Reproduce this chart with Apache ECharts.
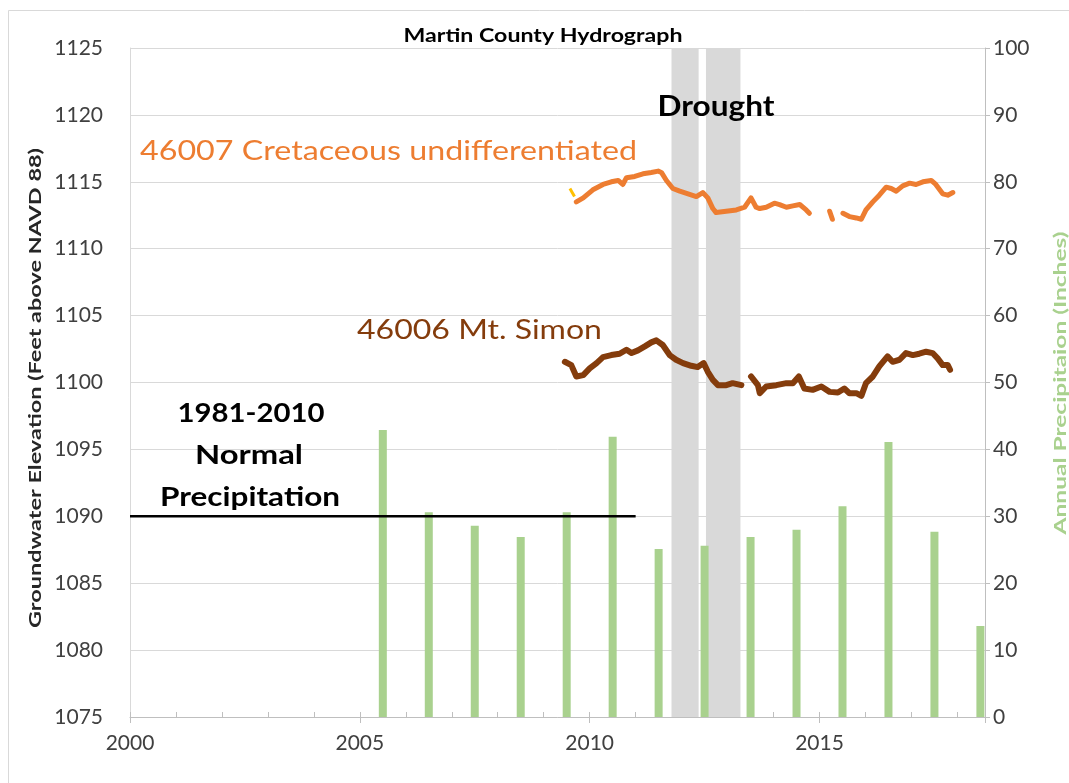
<!DOCTYPE html>
<html>
<head>
<meta charset="utf-8">
<title>Martin County Hydrograph</title>
<script src="https://cdn.jsdelivr.net/npm/echarts@6/dist/echarts.min.js"></script>
<style>
  html, body { margin: 0; padding: 0; background: #fff; overflow: hidden; }
  #chart { width: 1069px; height: 783px; }
</style>
</head>
<body>
<div id="chart"></div>
<script>
// Annual precipitation (inches), plotted at mid-year
const precipYears = [2005.5, 2006.5, 2007.5, 2008.5, 2009.5, 2010.5, 2011.5, 2012.5, 2013.5, 2014.5, 2015.5, 2016.5, 2017.5, 2018.5];
const precipInches = [42.9, 30.6, 28.6, 26.9, 30.6, 41.9, 25.1, 25.6, 26.9, 28.0, 31.5, 41.1, 27.7, 13.6];

// 1981-2010 normal annual precipitation (inches)
const normalYears = [2000, 2011];
const normalInches = [30, 30];

// Well 46007 (Cretaceous undifferentiated) water level, ft above NAVD 88; null = no record
const well46007Years = [2009.71, 2009.86, 2010.07, 2010.29, 2010.47, 2010.62, 2010.72, 2010.80, 2010.98, 2011.16,
  2011.34, 2011.49, 2011.56, 2011.67, 2011.81, 2011.96, 2012.14, 2012.32, 2012.46, 2012.57,
  2012.68, 2012.75, 2012.97, 2013.19, 2013.37, 2013.51, 2013.62, 2013.70, 2013.84, 2014.02,
  2014.13, 2014.28, 2014.42, 2014.57, 2014.71, 2014.78, 2015.00, 2015.22, 2015.28, 2015.40,
  2015.51, 2015.65, 2015.80, 2015.91, 2016.01, 2016.16, 2016.30, 2016.45, 2016.56, 2016.67,
  2016.81, 2016.96, 2017.10, 2017.25, 2017.43, 2017.53, 2017.68, 2017.79, 2017.90];
const well46007Elev = [1113.5, 1113.8, 1114.4, 1114.8, 1115.0, 1115.1, 1114.8, 1115.3, 1115.4, 1115.6,
  1115.7, 1115.8, 1115.7, 1115.1, 1114.5, 1114.3, 1114.1, 1113.9, 1114.2, 1113.8,
  1113.0, 1112.7, 1112.8, 1112.9, 1113.1, 1113.8, 1113.1, 1113.0, 1113.1, 1113.4,
  1113.3, 1113.1, 1113.2, 1113.3, 1112.9, 1112.65, null, 1112.8, 1112.2, null,
  1112.65, 1112.4, 1112.3, 1112.2, 1112.9, 1113.5, 1114.0, 1114.6, 1114.5, 1114.3,
  1114.7, 1114.9, 1114.8, 1115.0, 1115.1, 1114.8, 1114.1, 1114.0, 1114.2];

// Early manual readings at well 46007
const well46007ManualYears = [2009.57, 2009.67];
const well46007ManualElev = [1114.5, 1113.9];

// Well 46006 (Mt. Simon) water level, ft above NAVD 88; null = no record
const well46006Years = [2009.46, 2009.60, 2009.71, 2009.86, 2010.00, 2010.15, 2010.29, 2010.47, 2010.65, 2010.80,
  2010.91, 2011.05, 2011.20, 2011.34, 2011.45, 2011.59, 2011.74, 2011.88, 2012.03, 2012.21,
  2012.35, 2012.48, 2012.57, 2012.68, 2012.79, 2012.97, 2013.11, 2013.30, 2013.40, 2013.51,
  2013.66, 2013.70, 2013.84, 2014.06, 2014.28, 2014.42, 2014.55, 2014.67, 2014.85, 2015.04,
  2015.22, 2015.40, 2015.54, 2015.65, 2015.80, 2015.91, 2016.01, 2016.16, 2016.30, 2016.48,
  2016.59, 2016.74, 2016.88, 2017.03, 2017.17, 2017.32, 2017.46, 2017.57, 2017.68, 2017.79, 2017.84];
const well46006Elev = [1101.55, 1101.3, 1100.45, 1100.55, 1101.05, 1101.45, 1101.9, 1102.05, 1102.15, 1102.45,
  1102.2, 1102.4, 1102.7, 1103.0, 1103.15, 1102.8, 1102.05, 1101.7, 1101.45, 1101.25,
  1101.15, 1101.45, 1100.8, 1100.2, 1099.8, 1099.8, 1099.95, 1099.8, null, 1100.45,
  1099.8, 1099.2, 1099.7, 1099.8, 1099.95, 1099.95, 1100.45, 1099.55, 1099.45, 1099.7,
  1099.3, 1099.25, 1099.55, 1099.2, 1099.2, 1099.0, 1099.95, 1100.45, 1101.2, 1101.95,
  1101.55, 1101.7, 1102.2, 1102.05, 1102.15, 1102.3, 1102.2, 1101.8, 1101.3, 1101.3, 1100.95];

// Drought periods (decimal years)
const droughtStart = [2011.78, 2012.53];
const droughtEnd = [2012.37, 2013.28];

const FONT = 'Lato, "Open Sans", sans-serif';

function pairs(xs, ys) {
  return xs.map((x, i) => [x, ys[i] === null ? '-' : ys[i]]);
}

// Horizontal stretch factor so a string set in `font` spans `width` pixels
const measureCtx = document.createElement('canvas').getContext('2d');
function stretch(text, font, width) {
  measureCtx.font = font;
  return width / measureCtx.measureText(text).width;
}

// Text annotation, optionally rotated, stretched along its baseline to a given length
function label(text, x, y, font, color, length, opts) {
  const o = opts || {};
  return {
    type: 'text', x: x, y: y, z: 100, silent: true,
    rotation: o.rotation || 0,
    scaleX: length ? stretch(text, font, length) : 1,
    style: {
      text: text, font: font, fill: color,
      textAlign: o.align || 'center', textVerticalAlign: 'middle'
    }
  };
}

const chart = echarts.init(document.getElementById('chart'), null, { renderer: 'canvas' });

chart.setOption({
  animation: false,
  backgroundColor: '#ffffff',
  textStyle: { fontFamily: FONT },
  grid: { left: 130, right: 84, top: 48, bottom: 66, containLabel: false, outerBoundsMode: 'none' },
  xAxis: [
    {
      type: 'value', min: 2000, max: 2018.6, interval: 5,
      axisLine: { show: true, lineStyle: { color: '#bfbfbf', width: 1 } },
      axisTick: { show: true, inside: false, length: 6, lineStyle: { color: '#bfbfbf' } },
      axisLabel: {
        fontFamily: FONT, fontSize: 21, color: '#404040', margin: 16,
        formatter: v => (Math.abs(v % 5) < 1e-6 ? String(v) : '')
      },
      splitLine: { show: false }
    },
    {
      type: 'value', min: 2000, max: 2018.6, interval: 1, position: 'bottom',
      axisLine: { show: false },
      axisTick: { show: true, inside: true, length: 5, lineStyle: { color: '#bfbfbf' } },
      axisLabel: { show: false },
      splitLine: { show: false }
    }
  ],
  yAxis: [
    {
      type: 'value', min: 1075, max: 1125, interval: 5, position: 'left',
      axisLine: { show: true, lineStyle: { color: '#d9d9d9' } },
      axisTick: { show: false },
      axisLabel: { fontFamily: FONT, fontSize: 21, color: '#404040', margin: 27, formatter: v => String(v) },
      splitLine: { show: true, lineStyle: { color: '#d9d9d9', width: 1 } }
    },
    {
      type: 'value', min: 0, max: 100, interval: 10, position: 'right',
      axisLine: { show: true, lineStyle: { color: '#bfbfbf' } },
      axisTick: { show: true, inside: false, length: 5, lineStyle: { color: '#bfbfbf' } },
      axisLabel: { fontFamily: FONT, fontSize: 21, color: '#404040', margin: 8, formatter: v => String(v) },
      splitLine: { show: false }
    }
  ],
  series: [
    {
      name: 'Drought',
      type: 'line', xAxisIndex: 0, yAxisIndex: 0, data: [], z: 0, silent: true,
      markArea: {
        silent: true,
        itemStyle: { color: '#d9d9d9' },
        data: droughtStart.map((s, i) => [{ xAxis: s }, { xAxis: droughtEnd[i] }])
      }
    },
    {
      name: 'Annual Precipitation',
      type: 'bar', xAxisIndex: 0, yAxisIndex: 1, barWidth: 8, z: 2,
      itemStyle: { color: '#a9d18e' },
      data: pairs(precipYears, precipInches)
    },
    {
      name: '1981-2010 Normal Precipitation',
      type: 'line', xAxisIndex: 0, yAxisIndex: 1, z: 3,
      showSymbol: false, symbol: 'none',
      lineStyle: { color: '#000000', width: 2.5 },
      data: pairs(normalYears, normalInches)
    },
    {
      name: '46007 Cretaceous undifferentiated',
      type: 'line', xAxisIndex: 0, yAxisIndex: 0, z: 4,
      showSymbol: false, symbol: 'none', connectNulls: false,
      lineStyle: { color: '#ed7d31', width: 5, join: 'round', cap: 'round' },
      data: pairs(well46007Years, well46007Elev)
    },
    {
      name: '46007 manual',
      type: 'line', xAxisIndex: 0, yAxisIndex: 0, z: 4,
      showSymbol: false, symbol: 'none',
      lineStyle: { color: '#ffc000', width: 3 },
      data: pairs(well46007ManualYears, well46007ManualElev)
    },
    {
      name: '46006 Mt. Simon',
      type: 'line', xAxisIndex: 0, yAxisIndex: 0, z: 4,
      showSymbol: false, symbol: 'none', connectNulls: false,
      lineStyle: { color: '#843c0c', width: 6, join: 'round', cap: 'round' },
      data: pairs(well46006Years, well46006Elev)
    }
  ],
  graphic: [
    {
      type: 'rect', silent: true, z: -1,
      shape: { x: 8.5, y: 10.5, width: 1200, height: 900 },
      style: { fill: null, stroke: '#d9d9d9', lineWidth: 1 }
    },
    label('Martin County Hydrograph', 543, 36, 'bold 19px ' + FONT, '#000000', 279),
    label('Drought', 716, 107, 'bold 28px ' + FONT, '#000000', 117),
    label('46007 Cretaceous undifferentiated', 140, 151, '27px ' + FONT, '#ed7d31', 497, { align: 'left' }),
    label('46006 Mt. Simon', 357, 330, '27px ' + FONT, '#843c0c', 245, { align: 'left' }),
    label('1981-2010', 251, 413, 'bold 27px ' + FONT, '#000000', 147),
    label('Normal', 249, 455, 'bold 27px ' + FONT, '#000000', 108),
    label('Precipitation', 250, 497, 'bold 27px ' + FONT, '#000000', 180),
    label('Groundwater Elevation (Feet above NAVD 88)', 36, 388, 'bold 17px ' + FONT, '#262626', 480,
      { rotation: Math.PI / 2 }),
    label('Annual Precipitaion (Inches)', 1061, 383, 'bold 17px ' + FONT, '#a9d18e', 303,
      { rotation: Math.PI / 2 })
  ]
});
</script>
</body>
</html>
